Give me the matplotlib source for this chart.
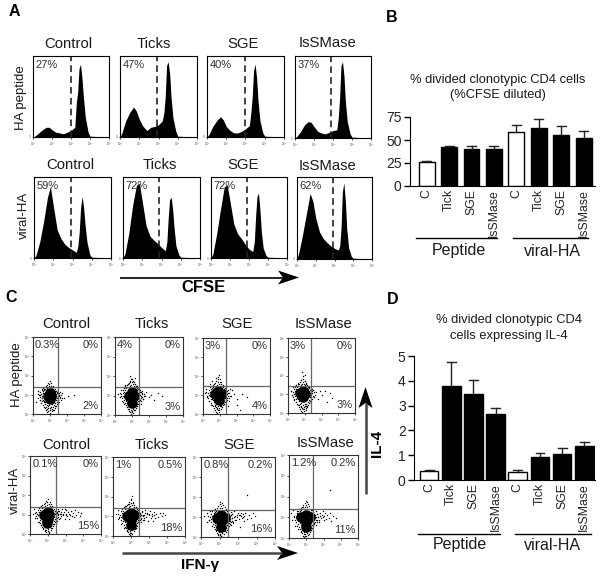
import matplotlib
matplotlib.use('Agg')
import matplotlib.pyplot as plt

plt.rcParams['font.family'] = ['Liberation Sans', 'DejaVu Sans']

W, H = 600, 577
samples = ['Control', 'Ticks', 'SGE', 'IsSMase']
bar_labels = ['C', 'Tick', 'SGE', 'IsSMase', 'C', 'Tick', 'SGE', 'IsSMase']

# panel A histograms, x in decades, y as fraction of the box
hist_x = [0, .1, .3, .5, .7, .85, 1, 1.2, 1.4, 1.6, 1.8, 2, 2.2, 2.28, 2.35, 2.42, 2.5, 2.58, 2.65, 2.75, 2.9, 3, 4]
hist_pep_control = [0, .01, .05, .09, .12, .12, .09, .06, .05, .04, .06, .08, .12, .42, .55, .84, .9, .72, .5, .25, .06, .01, 0]
hist_pep_ticks = [0, .05, .2, .3, .37, .32, .22, .13, .08, .12, .13, .15, .2, .3, .5, .88, .93, .78, .5, .24, .07, .01, 0]
hist_pep_sge = [0, .03, .13, .2, .25, .21, .13, .08, .05, .05, .07, .1, .14, .3, .5, .82, .9, .72, .45, .2, .05, .01, 0]
hist_pep_isse = [0, .02, .08, .16, .2, .19, .14, .08, .06, .05, .07, .09, .1, .25, .5, .88, .93, .75, .45, .2, .05, .01, 0]
hist_vir_control = [0, .03, .2, .45, .75, .88, .65, .35, .24, .17, .13, .1, .07, .15, .32, .62, .76, .62, .42, .2, .04, .01, 0]
hist_vir_ticks = [0, .05, .3, .65, .9, .92, .7, .4, .27, .22, .18, .13, .09, .2, .5, .72, .75, .6, .38, .15, .04, .01, 0]
hist_vir_sge = [0, .05, .3, .6, .88, .9, .7, .42, .3, .24, .17, .11, .08, .2, .52, .76, .8, .58, .32, .12, .03, .01, 0]
hist_vir_isse = [0, .08, .3, .55, .8, .7, .5, .33, .25, .2, .16, .13, .11, .16, .38, .82, .93, .7, .38, .14, .03, .01, 0]
hist_pct = [['27%', '47%', '40%', '37%'], ['59%', '72%', '72%', '62%']]
hist_gate = [[2.0, 1.93, 1.95, 1.9], [1.9, 1.88, 1.9, 1.9]]

# panel B
cfse_vals = [26, 42, 40, 40.5, 59, 63, 55, 52]
cfse_top = [27, 43, 43.5, 43.5, 66, 73, 65, 60]

# panel D
il4_vals = [.37, 3.8, 3.47, 2.67, .32, .92, 1.05, 1.37]
il4_top = [.42, 4.75, 4.03, 2.9, .42, 1.08, 1.28, 1.55]

# panel C dense centres and loose dots, decades on both axes
core_pep_control = [(.98, 1.08), (1.06, .95), (.9, .95), (1.0, .8)]
core_pep_ticks = [(1.0, 1.2), (.82, 1.0), (1.14, 1.0), (1.0, .85), (1.0, .62)]
core_pep_sge = [(.9, 1.2), (.7, 1.05), (1.08, 1.05), (.9, .9), (.95, .72)]
core_pep_isse = [(.9, 1.2), (.72, 1.05), (1.03, 1.0), (.9, .85)]
core_vir_control = [(1.0, 1.15), (.78, 1.0), (1.08, .95), (1.0, .75), (.95, .55)]
core_vir_ticks = [(1.0, 1.18), (.78, 1.0), (1.18, 1.05), (1.0, .8), (1.0, .55)]
core_vir_sge = [(1.1, 1.08), (.88, .95), (1.28, .95), (1.1, .75), (1.1, .5)]
core_vir_isse = [(1.0, 1.12), (.72, 1.0), (1.22, 1.0), (1.0, .78), (1.0, .55)]

# speckle around each centre, offsets from the first core point
halo = [(-.62, .05), (-.58, -.2), (-.55, .22), (-.54, -.05), (-.52, -.38), (-.5, .12), (-.48, .35), (-.46, -.12), (-.45, -.28), (-.44, .02),
    (-.42, .25), (-.41, -.45), (-.4, .42), (-.38, -.18), (-.37, .15), (-.36, -.55), (-.35, .32), (-.33, -.32), (-.32, .48), (-.31, -.08),
    (-.3, -.62), (-.28, .38), (-.27, -.42), (-.26, .22), (-.24, -.72), (-.22, .52), (-.21, -.55), (-.2, .3), (-.18, -.85), (-.16, .6),
    (-.15, -.66), (-.13, .42), (-.12, -.92), (-.1, .7), (-.08, -.78), (-.06, .5), (-.04, -1.0), (-.02, .62), (0, -.86), (.02, .78),
    (.04, -.72), (.06, .52), (.08, -.95), (.1, .66), (.12, -.65), (.14, .42), (.16, -.8), (.18, .55), (.2, -.58), (.22, .3),
    (.24, -.7), (.26, .45), (.27, -.48), (.29, .22), (.3, -.6), (.32, .36), (.33, -.35), (.35, .1), (.36, -.5), (.38, .28),
    (.39, -.22), (.4, .02), (.42, -.4), (.43, .2), (.44, -.1), (.46, -.3), (.47, .12), (.48, -.02), (.5, -.2), (.52, .15),
    (.54, -.32), (.56, .02), (.58, -.12), (.6, .2), (.64, -.22), (.68, .05), (.72, -.1), (-.66, -.1), (-.7, .1), (-.25, -.3),
    (.25, -.25), (-.2, .14), (.22, .14), (-.35, -.25), (.34, -.15), (.1, -.55), (-.1, -.5), (.02, -.62), (-.3, .08), (.3, .08)]

dots_pep_control = [(.3, 1.2), (.4, 1.0), (.5, 1.25), (.55, .85), (.6, 1.1), (.62, 1.3), (.65, .7), (.4, .75), (.7, .5), (.75, 1.4), (.8, .45),
    (.85, 1.35), (.9, .3), (.95, .45), (1.0, .2), (1.05, .35), (1.1, .5), (1.1, 1.35), (1.2, 1.3), (1.25, .6), (1.3, 1.2), (1.35, .9), (1.4, 1.1),
    (1.45, .75), (1.5, 1.0), (1.6, .9), (1.7, 1.1), (1.85, .85), (2.05, .95), (2.4, 1.0), (1.3, .4), (.2, .6), (1.2, .2), (1.45, 1.25)]
dots_pep_ticks = [(.2, 1.1), (.3, .9), (.35, 1.3), (.4, .7), (.45, 1.15), (.5, .55), (.5, 1.4), (.55, .95), (.6, 1.55), (.7, .4), (.75, 1.6), (.8, .3),
    (.9, 1.7), (.95, 1.85), (1.0, .15), (1.05, 1.75), (1.1, .25), (1.15, 1.9), (1.2, 1.6), (1.25, .45), (1.3, 1.5), (1.4, .7), (1.45, 1.3), (1.5, .95),
    (1.6, 1.15), (1.65, .8), (1.75, 1.0), (1.85, 1.2), (2.0, .9), (2.1, 1.05), (2.3, .75), (2.5, 1.15), (2.75, 1.0), (1.55, .55), (1.35, 1.05), (.9, 2.0)]
dots_pep_sge = [(.1, 1.1), (.2, 1.3), (.25, .9), (.3, 1.45), (.35, .7), (.4, 1.6), (.5, .5), (.55, 1.75), (.6, 1.3), (.7, .4), (.75, 1.9), (.85, .3),
    (.9, 1.95), (.95, .2), (1.0, 1.85), (1.05, .4), (1.1, 1.7), (1.2, 1.55), (1.25, .55), (1.3, 1.35), (1.4, 1.2), (1.45, .85), (1.5, 1.1), (1.55, .7),
    (1.6, 1.3), (1.7, .95), (1.75, 1.25), (1.85, 1.05), (2.0, .8), (2.05, .45), (2.2, .2), (2.3, 1.05), (2.6, .9), (.95, 2.05), (1.5, .4)]
dots_pep_isse = [(.15, 1.2), (.25, .95), (.3, 1.4), (.35, .75), (.45, 1.5), (.5, .6), (.55, 1.2), (.6, 1.6), (.65, .45), (.75, 1.75), (.8, .3),
    (.9, 1.95), (.95, .2), (1.0, 1.7), (1.05, .4), (1.1, 1.55), (1.15, .3), (1.25, 1.4), (1.3, .65), (1.4, 1.05), (1.45, 1.3), (1.55, .85), (1.65, 1.1),
    (1.8, .75), (1.9, 1.15), (2.05, .95), (2.2, 1.2), (2.35, .6), (2.5, 1.05), (2.65, .8), (1.35, .85), (1.0, 2.05), (.85, 2.2), (1.05, .15)]
dots_vir_control = [(.15, 1.05), (.25, 1.3), (.3, .8), (.35, 1.15), (.45, .6), (.5, 1.35), (.55, .9), (.6, .45), (.7, 1.35), (.75, .3), (.85, .2), (1.05, .1),
    (1.2, .3), (1.25, 1.3), (1.35, .5), (1.4, 1.2), (1.45, .8), (1.5, 1.1), (1.55, 1.3), (1.6, .95), (1.65, 1.2), (1.7, .8), (1.75, 1.05), (1.8, 1.3),
    (1.85, .95), (1.9, 1.15), (1.95, .75), (2.0, 1.05), (2.05, 1.25), (2.1, .9), (2.15, 1.15), (2.2, .75), (2.25, 1.0), (2.3, 1.2), (2.35, .9), (2.4, 1.1),
    (2.5, .85), (2.55, 1.25), (2.6, 1.0), (2.7, 1.15), (2.8, .9), (2.85, 1.1), (1.58, 1.05), (1.72, 1.12), (1.88, 1.05), (2.02, .95), (2.18, 1.02), (1.95, 1.3)]
dots_vir_ticks = [(.15, 1.1), (.25, .85), (.3, 1.3), (.35, .95), (.45, .6), (.5, 1.4), (.6, .4), (.7, 1.5), (.75, .25), (.9, 1.6), (.95, .15), (1.05, .1), (1.1, 1.7),
    (1.25, 1.4), (1.25, .4), (1.35, 1.25), (1.4, .7), (1.5, 1.1), (1.55, .85), (1.6, 1.25), (1.65, 1.0), (1.7, .8), (1.75, 1.15), (1.8, 1.3), (1.85, .95),
    (1.9, 1.15), (1.95, .75), (2.0, 1.05), (2.05, 1.25), (2.1, .9), (2.15, 1.1), (2.2, .75), (2.25, 1.05), (2.3, 1.2), (2.35, .9), (2.4, 1.1), (2.5, .95),
    (2.6, 1.15), (2.7, 1.0), (2.8, 1.15), (2.9, 1.05), (1.58, 1.08), (1.72, 1.05), (1.88, 1.1), (2.02, 1.12), (2.18, 1.0), (1.0, 1.85), (1.05, 2.05)]
dots_vir_sge = [(.15, 1.05), (.3, .75), (.35, 1.2), (.45, .85), (.5, 1.3), (.6, .55), (.7, 1.35), (.8, .35), (.9, .15), (1.05, .1), (1.15, .2), (1.3, .3), (1.4, .6),
    (1.4, 1.3), (1.5, 1.1), (1.55, .8), (1.6, 1.25), (1.65, .95), (1.7, 1.15), (1.75, .75), (1.8, 1.3), (1.85, 1.05), (1.9, .85), (1.95, 1.1), (2.0, 1.2),
    (2.05, .9), (2.1, 1.1), (2.15, 1.2), (2.2, .95), (2.25, 1.15), (2.3, .8), (2.35, 1.05), (2.4, 1.2), (2.5, .9), (2.6, 1.1), (2.7, .95), (2.8, 1.2), (2.9, 1.05),
    (2.15, 1.05), (2.05, 1.12), (2.25, 1.02), (1.95, 1.0), (2.5, 2.1), (2.1, .5), (1.1, .05), (1.05, 1.75)]
dots_vir_isse = [(.1, 1.2), (.2, .85), (.25, 1.35), (.3, 1.0), (.35, .6), (.45, 1.3), (.5, .45), (.6, 1.4), (.7, .3), (.8, 1.5), (.85, .2), (.95, .1), (1.1, .15), (1.25, .4),
    (1.3, 1.35), (1.4, 1.2), (1.45, .7), (1.5, 1.0), (1.55, 1.3), (1.6, .85), (1.65, 1.15), (1.7, 1.0), (1.75, .75), (1.8, 1.2), (1.85, .95), (1.9, 1.1),
    (1.95, 1.3), (2.0, .85), (2.05, 1.05), (2.1, 1.2), (2.15, .9), (2.2, 1.1), (2.3, .95), (2.35, 1.2), (2.45, .8), (2.55, 1.05), (2.7, .95), (1.0, 1.8), (2.4, 2.3), (1.8, 1.08), (1.95, 1.0)]

cores = [[core_pep_control, core_pep_ticks, core_pep_sge, core_pep_isse], [core_vir_control, core_vir_ticks, core_vir_sge, core_vir_isse]]
dots = [[dots_pep_control, dots_pep_ticks, dots_pep_sge, dots_pep_isse], [dots_vir_control, dots_vir_ticks, dots_vir_sge, dots_vir_isse]]
quad_ul = [['0.3%', '4%', '3%', '3%'], ['0.1%', '1%', '0.8%', '1.2%']]
quad_ur = [['0%', '0%', '0%', '0%'], ['0%', '0.5%', '0.2%', '0.2%']]
quad_lr = [['2%', '3%', '4%', '3%'], ['15%', '18%', '16%', '11%']]
gate_v = [[1.48, 1.44, 1.38, 1.38], [1.45, 1.45, 1.45, 1.42]]
gate_h = [[1.4, 1.42, 1.45, 1.45], [1.4, 1.4, 1.35, 1.4]]


def box_ax(x0, y0, x1, y1):
    return fig.add_axes([x0 / W, 1 - y1 / H, (x1 - x0) / W, (y1 - y0) / H])


fig = plt.figure(figsize=(6, 5.77), dpi=100)
overlay = fig.add_axes([0, 0, 1, 1], zorder=10)
overlay.set_xlim(0, W)
overlay.set_ylim(H, 0)
overlay.axis('off')
overlay.patch.set_alpha(0)


def label(x, y, s, size=10.7, **kw):
    kw.setdefault('color', '#1a1a1a')
    overlay.text(x, y, s, fontsize=size, ha='center', va='center', **kw)


def log_ticks(ax, both=False):
    ax.set_xticks(range(5))
    ax.set_xticklabels(['10$^%d$' % i for i in range(5)], fontsize=2.2, color='#555555')
    ax.tick_params(axis='x', length=1.5, width=.5, pad=.8)
    if both:
        ax.set_yticks(range(5))
        ax.set_yticklabels(['10$^%d$' % i for i in range(5)], fontsize=2.2, color='#555555')
        ax.tick_params(axis='y', length=1.5, width=.5, pad=.5)
    else:
        ax.set_yticks([0])
        ax.set_yticklabels(['0'], fontsize=2.2, color='#555555')
        ax.tick_params(axis='y', length=1, width=.5, pad=.8)


def arrow(x0, y0, x1, y1, lw, col):
    # line with a notched head drawn in pixel space
    ux, uy = (x1 - x0), (y1 - y0)
    n = (ux ** 2 + uy ** 2) ** .5
    ux, uy = ux / n, uy / n
    px, py = -uy, ux
    ln, wd, notch = 21, 7, 16
    overlay.plot([x0, x1 - ux * notch], [y0, y1 - uy * notch], color=col, lw=lw, solid_capstyle='butt')
    overlay.fill([x1, x1 - ux * ln + px * wd, x1 - ux * notch, x1 - ux * ln - px * wd],
                 [y1, y1 - uy * ln + py * wd, y1 - uy * notch, y1 - uy * ln - py * wd], color='black', lw=0)


# panel A
hist_boxes = [[(33, 56, 109, 137), (120, 56, 197, 137), (207, 56, 284, 137), (295, 56, 371, 138)],
              [(34, 177, 111, 258), (123, 177, 200, 258), (211, 177, 287, 258), (297, 177, 372, 259)]]
hist_series = [[hist_pep_control, hist_pep_ticks, hist_pep_sge, hist_pep_isse],
               [hist_vir_control, hist_vir_ticks, hist_vir_sge, hist_vir_isse]]
for r in range(2):
    for c in range(4):
        ax = box_ax(*hist_boxes[r][c])
        ax.fill_between(hist_x, hist_series[r][c], color='black', lw=0)
        ax.axvline(hist_gate[r][c], color='#222222', ls=(0, (4, 2.5)), lw=1.2)
        ax.set_xlim(0, 4)
        ax.set_ylim(0, 1)
        log_ticks(ax)
        ax.text(.03, .955, hist_pct[r][c], transform=ax.transAxes, fontsize=8, va='top', color='#333333')

head_a = [(68, 44), (154, 44), (243, 44), (328, 43)]
head_b = [(70, 165), (160, 165), (243, 165), (328, 166)]
for s, p, q in zip(samples, head_a, head_b):
    label(p[0], p[1], s)
    label(q[0], q[1], s)
label(21, 98, 'HA peptide', 9.5, rotation=90)
label(24, 215, 'viral-HA', 9.5, rotation=90)

# panel C
dot_boxes = [[(33, 337, 101, 414), (115, 337, 183, 415), (203, 338, 270, 414), (288, 338, 355, 413)],
             [(30, 456, 101, 534), (113, 457, 185, 536), (201, 457, 275, 537), (289, 455, 358, 538)]]
for r in range(2):
    for c in range(4):
        ax = box_ax(*dot_boxes[r][c])
        ax.scatter(*zip(*cores[r][c]), s=58, c='black', lw=0)
        cx, cy = cores[r][c][0]
        ax.scatter([cx + a for a, b in halo], [cy - .15 + b for a, b in halo], s=1, c='black', lw=0, marker='o', snap=False)
        ax.scatter(*zip(*dots[r][c]), s=1, c='black', lw=0, marker='o', snap=False)
        ax.axvline(gate_v[r][c], color='#666666', lw=.9)
        ax.axhline(gate_h[r][c], color='#666666', lw=.9)
        ax.set_xlim(0, 4)
        ax.set_ylim(0, 4)
        log_ticks(ax, both=True)
        for sp in ax.spines.values():
            sp.set_color('#333333')
        ax.text(.03, .96, quad_ul[r][c], transform=ax.transAxes, fontsize=8, va='top', color='#333333')
        ax.text(.97, .96, quad_ur[r][c], transform=ax.transAxes, fontsize=8, va='top', ha='right', color='#333333')
        ax.text(.97, .04, quad_lr[r][c], transform=ax.transAxes, fontsize=8, va='bottom', ha='right', color='#333333')

head_c = [(66, 324), (152, 324), (237, 324), (323, 324)]
head_d = [(66, 445), (152, 445), (239, 445), (326, 443)]
for s, p, q in zip(samples, head_c, head_d):
    label(p[0], p[1], s)
    label(q[0], q[1], s)
label(17, 375, 'HA peptide', 9.5, rotation=90)
label(15, 490, 'viral-HA', 9.5, rotation=90)


def bars(box, xlim, ylim, yticks, vals, tops, width):
    ax = box_ax(*box)
    pos = list(range(8))
    cols = ['white', 'black', 'black', 'black'] * 2
    ax.bar(pos, vals, width=width, color=cols, edgecolor='black', lw=1)
    for p, v, t in zip(pos, vals, tops):
        ax.plot([p, p], [v, t], color='#222222', lw=1)
        ax.plot([p - .2, p + .2], [t, t], color='#222222', lw=1)
    ax.set_xlim(*xlim)
    ax.set_ylim(*ylim)
    ax.set_yticks(yticks)
    ax.set_yticklabels(yticks, fontsize=10, color='#222222')
    ax.set_xticks(pos)
    ax.set_xticklabels(bar_labels, rotation=90, fontsize=8.8, color='#222222')
    ax.tick_params(axis='x', length=0, pad=2)
    ax.tick_params(axis='y', length=4, width=1, pad=2)
    ax.spines['top'].set_visible(False)
    ax.spines['right'].set_visible(False)
    return ax


bars((410, 117, 595, 186), (-.746, 7.51), (0, 75), [0, 25, 50, 75], cfse_vals, cfse_top, .71)
bars((414, 356, 595, 480), (-.68, 7.48), (0, 5), [0, 1, 2, 3, 4, 5], il4_vals, il4_top, .84)

label(498, 80, '% divided clonotypic CD4 cells', 9.3)
label(498, 95, '(%CFSE diluted)', 9.3)
label(509, 320, '% divided clonotypic CD4', 9.3)
label(509, 336, 'cells expressing IL-4', 9.3)

overlay.plot([416, 497], [238, 238], color='black', lw=1)
overlay.plot([513, 588], [238, 238], color='black', lw=1)
overlay.plot([418, 500], [534, 534], color='black', lw=1)
overlay.plot([515, 591], [534, 534], color='black', lw=1)
label(459, 251, 'Peptide', 11.5)
label(552, 251, 'viral-HA', 11.5)
label(460, 545, 'Peptide', 11.5)
label(552, 545, 'viral-HA', 11.5)

# arrows and panel letters
arrow(120, 277.5, 299, 277.5, 1.2, 'black')
arrow(122, 553, 298, 553, 1.8, '#444444')
arrow(365.5, 494, 365.5, 387, 1.8, '#444444')
label(203, 287, 'CFSE', 12, fontweight='bold', color='black')
label(200, 565, 'IFN-γ', 11, fontweight='bold', color='black')
label(377, 443, 'IL-4', 11, fontweight='bold', rotation=90, color='black')
for s, x, y in [('A', 14, 12), ('B', 392, 18), ('C', 11, 297), ('D', 393, 300)]:
    label(x, y, s, 11.5, fontweight='bold', color='black')

fig.savefig('out.png', dpi=100)
